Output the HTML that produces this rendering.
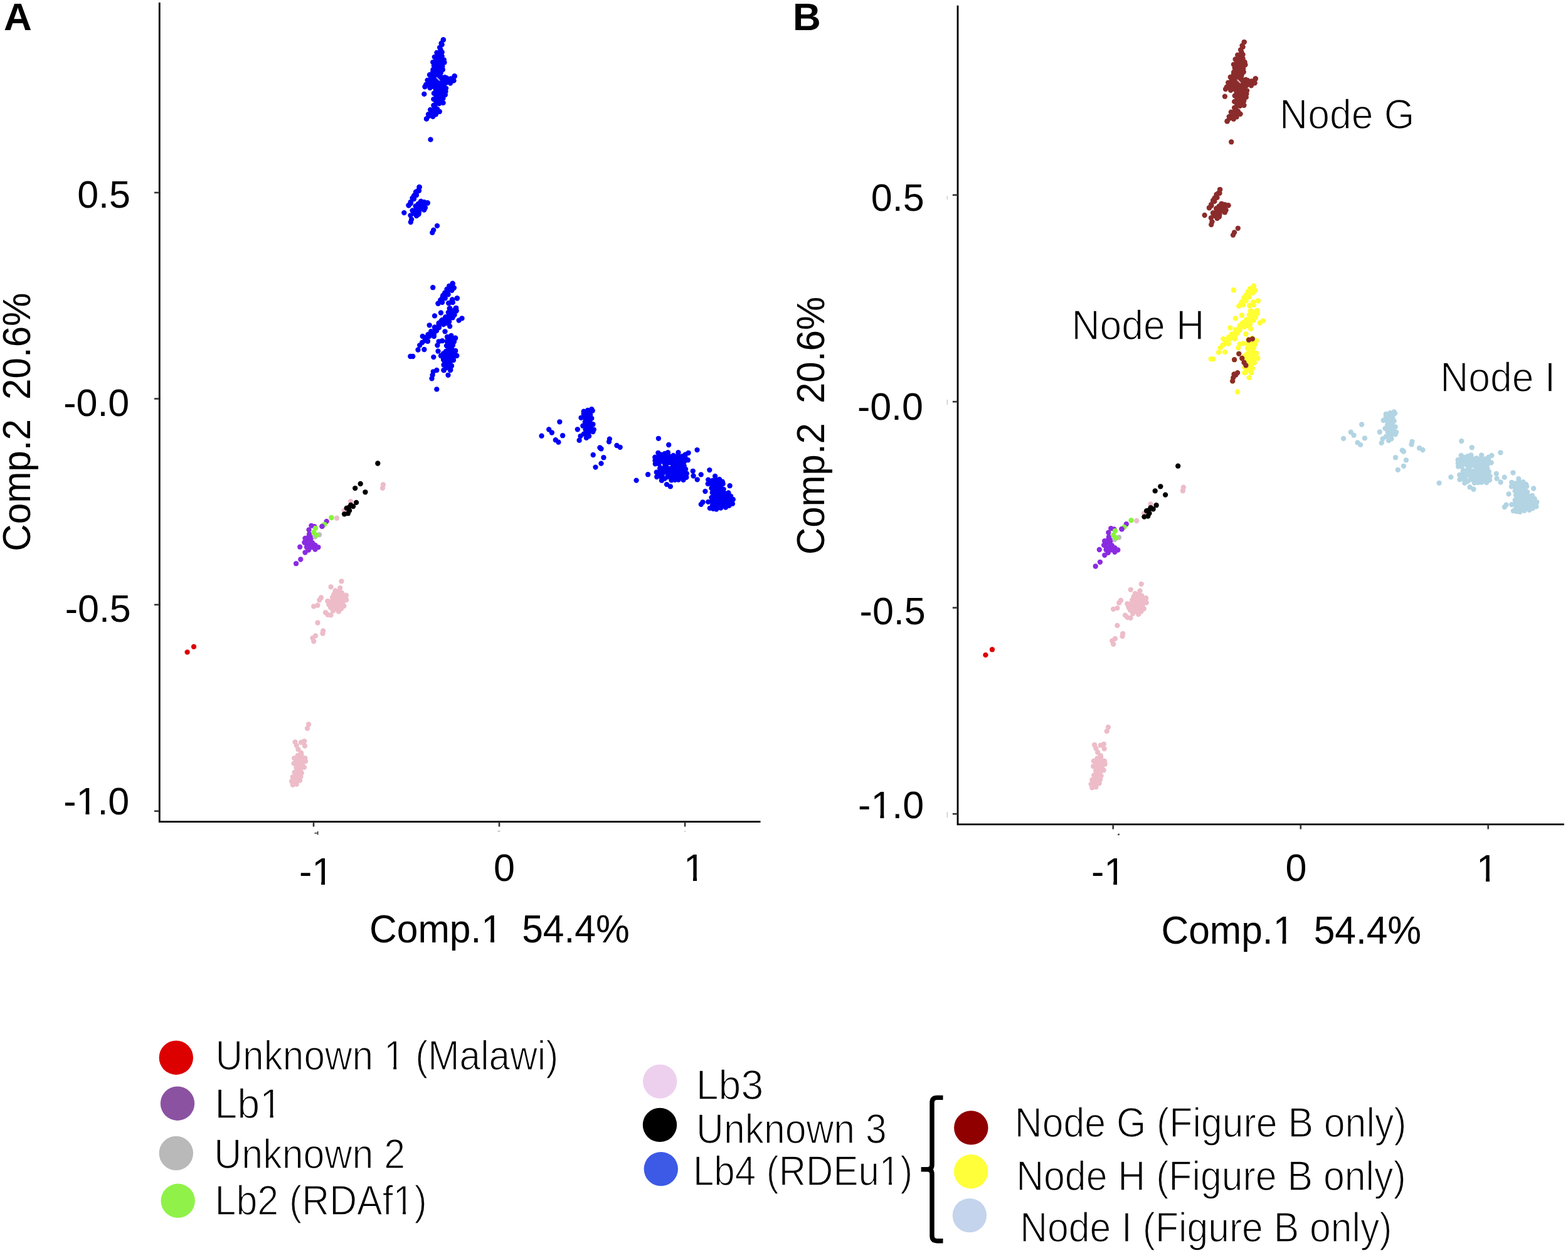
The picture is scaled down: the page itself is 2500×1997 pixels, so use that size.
<!DOCTYPE html>
<html><head><meta charset="utf-8"><title>PCA figure</title><style>html,body{margin:0;padding:0;background:#fff;}svg{display:block;}</style></head><body>
<svg width="2500" height="1997" viewBox="0 0 2500 1997">
<rect width="2500" height="1997" fill="#fff"/>
<text x="6" y="48" font-family="'Liberation Sans', Arial, Helvetica, sans-serif" font-weight="bold" font-size="62">A</text>
<text x="1264" y="48.3" font-family="'Liberation Sans', Arial, Helvetica, sans-serif" font-weight="bold" font-size="62">B</text>
<g stroke="#000" stroke-width="2.8" fill="none"><path d="M254.3,4 V1309.7 H1212.5"/><path d="M1527,8.8 V1313.9 H2493.8"/></g>
<g stroke="#333" stroke-width="2.6"><line x1="246" y1="307" x2="254" y2="307"/><line x1="246" y1="635.5" x2="254" y2="635.5"/><line x1="246" y1="963.8" x2="254" y2="963.8"/><line x1="246" y1="1292.7" x2="254" y2="1292.7"/><line x1="500" y1="1310" x2="500" y2="1317.5"/><line x1="796" y1="1310" x2="796" y2="1317.5"/><line x1="1092.1" y1="1310" x2="1092.1" y2="1317.5"/><line x1="1518.8" y1="310.8" x2="1527" y2="310.8"/><line x1="1518.8" y1="640.2" x2="1527" y2="640.2"/><line x1="1518.8" y1="968.6" x2="1527" y2="968.6"/><line x1="1518.8" y1="1297.2" x2="1527" y2="1297.2"/><line x1="1774.7" y1="1314" x2="1774.7" y2="1321.5"/><line x1="2073.8" y1="1314" x2="2073.8" y2="1321.5"/><line x1="2372.7" y1="1314" x2="2372.7" y2="1321.5"/></g>
<text x="208" y="331" font-family="'Liberation Sans', Arial, Helvetica, sans-serif" font-size="61" text-anchor="end">0.5</text>
<text x="206.3" y="663.2" font-family="'Liberation Sans', Arial, Helvetica, sans-serif" font-size="61" text-anchor="end">-0.0</text>
<text x="208.8" y="990.8" font-family="'Liberation Sans', Arial, Helvetica, sans-serif" font-size="61" text-anchor="end">-0.5</text>
<text x="206.3" y="1297.8" font-family="'Liberation Sans', Arial, Helvetica, sans-serif" font-size="61" text-anchor="end">-1.0</text>
<text x="1473.6" y="336.3" font-family="'Liberation Sans', Arial, Helvetica, sans-serif" font-size="61" text-anchor="end">0.5</text>
<text x="1472" y="669" font-family="'Liberation Sans', Arial, Helvetica, sans-serif" font-size="61" text-anchor="end">-0.0</text>
<text x="1475.7" y="995.3" font-family="'Liberation Sans', Arial, Helvetica, sans-serif" font-size="61" text-anchor="end">-0.5</text>
<text x="1473.2" y="1304.4" font-family="'Liberation Sans', Arial, Helvetica, sans-serif" font-size="61" text-anchor="end">-1.0</text>
<text x="803.9" y="1403.5" font-family="'Liberation Sans', Arial, Helvetica, sans-serif" font-size="61" text-anchor="middle">0</text>
<text x="2066.5" y="1404.3" font-family="'Liberation Sans', Arial, Helvetica, sans-serif" font-size="61" text-anchor="middle">0</text>
<text x="1090" y="1404" font-family="'Liberation Sans', Arial, Helvetica, sans-serif" font-size="61" text-anchor="start">1</text>
<text x="2354" y="1405" font-family="'Liberation Sans', Arial, Helvetica, sans-serif" font-size="61" text-anchor="start">1</text>
<text x="477" y="1410" font-family="'Liberation Sans', Arial, Helvetica, sans-serif" font-size="61" text-anchor="start">-1</text>
<text x="1740" y="1410" font-family="'Liberation Sans', Arial, Helvetica, sans-serif" font-size="61" text-anchor="start">-1</text>
<g fill="#fff"><rect x="1092" y="1398" width="13" height="7"/><rect x="1111" y="1398" width="12" height="7"/><rect x="2356" y="1399" width="13" height="7"/><rect x="2375" y="1399" width="12" height="7"/><rect x="499" y="1404" width="13.2" height="7"/><rect x="518" y="1404" width="12" height="7"/><rect x="1762" y="1404" width="13.2" height="7"/><rect x="1781" y="1404" width="12" height="7"/></g>
<text transform="matrix(0.9709,0,0,1,589.1,1502.3)" font-family="'Liberation Sans', Arial, Helvetica, sans-serif" font-size="62.3" word-spacing="15">Comp.1 54.4%</text>
<text transform="matrix(0.9709,0,0,1,1851.5,1504)" font-family="'Liberation Sans', Arial, Helvetica, sans-serif" font-size="62.3" word-spacing="15">Comp.1 54.4%</text>
<text transform="translate(48.3,878.7) rotate(-90) scale(0.9656,1)" font-family="'Liberation Sans', Arial, Helvetica, sans-serif" font-size="62.3" word-spacing="15">Comp.2 20.6%</text>
<text transform="translate(1314,884.1) rotate(-90) scale(0.963,1)" font-family="'Liberation Sans', Arial, Helvetica, sans-serif" font-size="62.3" word-spacing="15">Comp.2 20.6%</text>
<g fill="#444"><rect x="501.5" y="1327" width="4" height="1.6"/><rect x="505.5" y="1325" width="2" height="5.5"/><rect x="1782" y="1329" width="3" height="2.5" transform="rotate(-30 1783 1330)"/></g>
<g fill="#c4c4c4"><rect x="1509.7" y="312.3" width="1.3" height="5.6" rx="0.6"/><rect x="1509.7" y="636.7" width="1.3" height="8.4" rx="0.6"/><rect x="1509.7" y="1294" width="1.3" height="9" rx="0.6"/></g>
<g fill="#edbcc8"><polygon points="469.3,1208.3 474.8,1204.1 480.4,1202.7 486.3,1208.3 487,1213.2 485,1222.9 480.8,1232 478,1243.8 472.8,1249.8 466.8,1250.8 465.1,1245.2 466.8,1238.3 472.4,1223.6 468.6,1216.7"/><circle cx="469.3" cy="1208.3" r="4.15"/><circle cx="474.8" cy="1204.1" r="4.15"/><circle cx="480.4" cy="1202.7" r="4.15"/><circle cx="486.3" cy="1208.3" r="4.15"/><circle cx="487" cy="1213.2" r="4.15"/><circle cx="485" cy="1222.9" r="4.15"/><circle cx="480.8" cy="1232" r="4.15"/><circle cx="479.4" cy="1237.9" r="4.15"/><circle cx="478" cy="1243.8" r="4.15"/><circle cx="472.8" cy="1249.8" r="4.15"/><circle cx="466.8" cy="1250.8" r="4.15"/><circle cx="465.1" cy="1245.2" r="4.15"/><circle cx="466.8" cy="1238.3" r="4.15"/><circle cx="469.6" cy="1230.9" r="4.15"/><circle cx="472.4" cy="1223.6" r="4.15"/><circle cx="468.6" cy="1216.7" r="4.15"/></g><g fill="#edbcc8"><circle cx="492.1" cy="1154.5" r="4.15"/><circle cx="490" cy="1160.9" r="4.15"/><circle cx="470.5" cy="1182.6" r="4.15"/><circle cx="485.2" cy="1181.3" r="4.15"/><circle cx="480.1" cy="1183.2" r="4.15"/><circle cx="486" cy="1188.8" r="4.15"/><circle cx="472.8" cy="1188.1" r="4.15"/><circle cx="475.5" cy="1194.4" r="4.15"/><circle cx="480.1" cy="1199.9" r="4.15"/></g><g fill="#edbcc8"><polygon points="534.7,941.7 545,945 551.7,949 552.1,956 548.3,965.7 539.9,974.4 530.9,973.4 527,968 524.6,963.6 522.5,958.1 530,952"/><circle cx="534.7" cy="941.7" r="4.15"/><circle cx="539.9" cy="943.4" r="4.15"/><circle cx="545" cy="945" r="4.15"/><circle cx="551.7" cy="949" r="4.15"/><circle cx="552.1" cy="956" r="4.15"/><circle cx="548.3" cy="965.7" r="4.15"/><circle cx="544.1" cy="970" r="4.15"/><circle cx="539.9" cy="974.4" r="4.15"/><circle cx="530.9" cy="973.4" r="4.15"/><circle cx="527" cy="968" r="4.15"/><circle cx="524.6" cy="963.6" r="4.15"/><circle cx="522.5" cy="958.1" r="4.15"/><circle cx="530" cy="952" r="4.15"/><circle cx="532.4" cy="946.9" r="4.15"/></g><g fill="#edbcc8"><circle cx="544.4" cy="926.4" r="4.15"/><circle cx="527.6" cy="935.4" r="4.15"/><circle cx="542.2" cy="937.2" r="4.15"/><circle cx="534.7" cy="941.7" r="4.15"/><circle cx="551.7" cy="949" r="4.15"/><circle cx="552.1" cy="956" r="4.15"/><circle cx="512" cy="952.5" r="4.15"/><circle cx="509.3" cy="956.3" r="4.15"/><circle cx="506.5" cy="964.7" r="4.15"/><circle cx="500.2" cy="966.4" r="4.15"/><circle cx="522.5" cy="958.1" r="4.15"/><circle cx="524.6" cy="963.6" r="4.15"/><circle cx="519" cy="976.2" r="4.15"/><circle cx="522.5" cy="979.7" r="4.15"/><circle cx="527.4" cy="980.4" r="4.15"/><circle cx="530.9" cy="973.4" r="4.15"/><circle cx="539.9" cy="974.4" r="4.15"/><circle cx="548.3" cy="965.7" r="4.15"/><circle cx="506.5" cy="992.5" r="4.15"/><circle cx="515.2" cy="1005.4" r="4.15"/><circle cx="514.5" cy="1009.6" r="4.15"/><circle cx="503" cy="1013.4" r="4.15"/><circle cx="498.5" cy="1016.9" r="4.15"/><circle cx="500.2" cy="1022.1" r="4.15"/></g><g fill="#dd0000"><circle cx="298.6" cy="1039.4" r="4.15"/><circle cx="309" cy="1030.7" r="4.15"/></g><g fill="#edbcc8"><circle cx="610.9" cy="772.4" r="4.15"/><circle cx="610" cy="777.9" r="4.15"/><circle cx="559.1" cy="799.2" r="4.15"/><circle cx="548.8" cy="813.8" r="4.15"/><circle cx="537" cy="825.7" r="4.15"/></g><g fill="#8a2be2"><circle cx="520.7" cy="830.9" r="4.15"/><circle cx="513.5" cy="838.9" r="4.15"/><circle cx="496.4" cy="837.8" r="4.15"/><circle cx="501.4" cy="839.1" r="4.15"/><circle cx="492.5" cy="844.4" r="4.15"/><circle cx="493.1" cy="851.3" r="4.15"/><circle cx="486.5" cy="857.9" r="4.15"/><circle cx="485.4" cy="864.5" r="4.15"/><circle cx="496.4" cy="856.8" r="4.15"/><circle cx="478.2" cy="871.7" r="4.15"/><circle cx="493.1" cy="868.9" r="4.15"/><circle cx="502.5" cy="868.9" r="4.15"/><circle cx="507.4" cy="872.2" r="4.15"/><circle cx="502.5" cy="875.5" r="4.15"/><circle cx="492" cy="876.6" r="4.15"/><circle cx="486.5" cy="880.5" r="4.15"/><circle cx="479.3" cy="891.5" r="4.15"/><circle cx="472.1" cy="898.2" r="4.15"/><circle cx="490" cy="860" r="4.15"/><circle cx="495" cy="862" r="4.15"/><circle cx="488" cy="866" r="4.15"/><circle cx="498" cy="865" r="4.15"/><circle cx="492" cy="856" r="4.15"/><circle cx="489" cy="872" r="4.15"/><circle cx="497" cy="872" r="4.15"/></g><g fill="#bebebe"><circle cx="509.1" cy="852.2" r="4.15"/><circle cx="502.5" cy="855.5" r="4.15"/></g><g fill="#86f53a"><circle cx="528.4" cy="825" r="4.15"/><circle cx="517.4" cy="835.8" r="4.15"/><circle cx="503" cy="841.9" r="4.15"/><circle cx="500.3" cy="848.5" r="4.15"/><circle cx="504.7" cy="852.9" r="4.15"/></g><g fill="#8a2be2"><circle cx="513.5" cy="838.9" r="4.15"/></g><g fill="#000"><circle cx="602.3" cy="738.5" r="4.15"/><circle cx="574.7" cy="771" r="4.15"/><circle cx="566.2" cy="778.1" r="4.15"/><circle cx="582.4" cy="784.3" r="4.15"/><circle cx="568.1" cy="800.9" r="4.15"/><circle cx="559.3" cy="804.9" r="4.15"/><circle cx="563.1" cy="807.1" r="4.15"/><circle cx="552.7" cy="809.9" r="4.15"/><circle cx="557.1" cy="813.8" r="4.15"/><circle cx="554.9" cy="818.2" r="4.15"/><circle cx="549.1" cy="819.3" r="4.15"/><circle cx="556" cy="809" r="4.15"/></g><g fill="#0000f5"><polygon points="706.8,63.4 704.7,71.1 702.5,79.1 704.7,83.2 704.7,89.6 707.7,95.3 708.5,99.5 705.3,105.8 705.9,111 702.7,116.3 709.3,123.2 712.2,124.4 718.6,125.5 724.7,121.5 723.3,128.4 718,132.5 711.1,132 711.1,140.6 709.9,151.1 706.4,156.9 706.4,163.9 700.1,165 693.6,169.7 700.6,177.8 694.8,182.4 690.2,185.9 683.8,184.8 680,189.4 686.1,174.9 691.3,167.9 691.3,158.1 691.9,148.8 694.8,144.1 685.5,140.1 677.4,138.3 679.2,134.8 681.5,127.9 685,119.2 690.2,114.5 690.4,111.1 691.9,104.7 690.2,99.1 692.8,90.8 696.4,84 701.1,75.7 703.6,68.9"/><circle cx="706.8" cy="63.4" r="4.15"/><circle cx="704.7" cy="71.1" r="4.15"/><circle cx="702.5" cy="79.1" r="4.15"/><circle cx="704.7" cy="83.2" r="4.15"/><circle cx="704.7" cy="89.6" r="4.15"/><circle cx="707.7" cy="95.3" r="4.15"/><circle cx="708.5" cy="99.5" r="4.15"/><circle cx="705.3" cy="105.8" r="4.15"/><circle cx="705.9" cy="111" r="4.15"/><circle cx="702.7" cy="116.3" r="4.15"/><circle cx="709.3" cy="123.2" r="4.15"/><circle cx="712.2" cy="124.4" r="4.15"/><circle cx="718.6" cy="125.5" r="4.15"/><circle cx="724.7" cy="121.5" r="4.15"/><circle cx="723.3" cy="128.4" r="4.15"/><circle cx="718" cy="132.5" r="4.15"/><circle cx="711.1" cy="132" r="4.15"/><circle cx="711.1" cy="140.6" r="4.15"/><circle cx="710.5" cy="145.8" r="4.15"/><circle cx="709.9" cy="151.1" r="4.15"/><circle cx="706.4" cy="156.9" r="4.15"/><circle cx="706.4" cy="163.9" r="4.15"/><circle cx="700.1" cy="165" r="4.15"/><circle cx="693.6" cy="169.7" r="4.15"/><circle cx="697.1" cy="173.8" r="4.15"/><circle cx="700.6" cy="177.8" r="4.15"/><circle cx="694.8" cy="182.4" r="4.15"/><circle cx="690.2" cy="185.9" r="4.15"/><circle cx="683.8" cy="184.8" r="4.15"/><circle cx="680" cy="189.4" r="4.15"/><circle cx="683" cy="182.2" r="4.15"/><circle cx="686.1" cy="174.9" r="4.15"/><circle cx="691.3" cy="167.9" r="4.15"/><circle cx="691.3" cy="158.1" r="4.15"/><circle cx="691.9" cy="148.8" r="4.15"/><circle cx="694.8" cy="144.1" r="4.15"/><circle cx="685.5" cy="140.1" r="4.15"/><circle cx="677.4" cy="138.3" r="4.15"/><circle cx="679.2" cy="134.8" r="4.15"/><circle cx="681.5" cy="127.9" r="4.15"/><circle cx="685" cy="119.2" r="4.15"/><circle cx="690.2" cy="114.5" r="4.15"/><circle cx="690.4" cy="111.1" r="4.15"/><circle cx="691.9" cy="104.7" r="4.15"/><circle cx="690.2" cy="99.1" r="4.15"/><circle cx="692.8" cy="90.8" r="4.15"/><circle cx="696.4" cy="84" r="4.15"/><circle cx="701.1" cy="75.7" r="4.15"/><circle cx="703.6" cy="68.9" r="4.15"/></g><g fill="#0000f5"><circle cx="706.8" cy="63.4" r="4.15"/><circle cx="676.3" cy="149.9" r="4.15"/><circle cx="686.5" cy="222.4" r="4.15"/><circle cx="724.7" cy="121.5" r="4.15"/><circle cx="723.3" cy="128.4" r="4.15"/><circle cx="706.4" cy="163.9" r="4.15"/><circle cx="700.6" cy="177.8" r="4.15"/><circle cx="680" cy="189.4" r="4.15"/></g><g fill="#0000f5"><polygon points="668.6,298.2 666,304.3 661.5,310.7 657.7,315.8 654.8,322.2 651.6,327.3 655,324 660,317 664,311 668,304"/><polygon points="671.1,320.9 681.7,323.5 677.8,331.1 676.2,334.3 668,338 667.3,341.3 664.1,343.9 660,340 657.7,335.6 662.8,328.6"/><circle cx="668.6" cy="298.2" r="4.15"/><circle cx="666" cy="304.3" r="4.15"/><circle cx="661.5" cy="310.7" r="4.15"/><circle cx="657.7" cy="315.8" r="4.15"/><circle cx="654.8" cy="322.2" r="4.15"/><circle cx="651.6" cy="327.3" r="4.15"/><circle cx="655" cy="324" r="4.15"/><circle cx="660" cy="317" r="4.15"/><circle cx="664" cy="311" r="4.15"/><circle cx="668" cy="304" r="4.15"/><circle cx="671.1" cy="320.9" r="4.15"/><circle cx="676.4" cy="322.2" r="4.15"/><circle cx="681.7" cy="323.5" r="4.15"/><circle cx="677.8" cy="331.1" r="4.15"/><circle cx="676.2" cy="334.3" r="4.15"/><circle cx="668" cy="338" r="4.15"/><circle cx="667.3" cy="341.3" r="4.15"/><circle cx="664.1" cy="343.9" r="4.15"/><circle cx="660" cy="340" r="4.15"/><circle cx="657.7" cy="335.6" r="4.15"/><circle cx="662.8" cy="328.6" r="4.15"/><circle cx="667" cy="324.8" r="4.15"/></g><g fill="#0000f5"><circle cx="668.6" cy="298.2" r="4.15"/><circle cx="666" cy="304.3" r="4.15"/><circle cx="661.5" cy="310.7" r="4.15"/><circle cx="657.7" cy="315.8" r="4.15"/><circle cx="654.8" cy="322.2" r="4.15"/><circle cx="651.6" cy="327.3" r="4.15"/><circle cx="671.1" cy="320.9" r="4.15"/><circle cx="681.7" cy="323.5" r="4.15"/><circle cx="677.8" cy="331.1" r="4.15"/><circle cx="676.2" cy="334.3" r="4.15"/><circle cx="662.8" cy="328.6" r="4.15"/><circle cx="657.7" cy="335.6" r="4.15"/><circle cx="664.7" cy="335.6" r="4.15"/><circle cx="667.3" cy="341.3" r="4.15"/><circle cx="664.1" cy="343.9" r="4.15"/><circle cx="654.5" cy="343.3" r="4.15"/><circle cx="656.1" cy="349.6" r="4.15"/><circle cx="654.8" cy="354.1" r="4.15"/><circle cx="644.3" cy="339.1" r="4.15"/><circle cx="697" cy="359.9" r="4.15"/><circle cx="691.2" cy="366.6" r="4.15"/><circle cx="689.3" cy="370.7" r="4.15"/><circle cx="670" cy="330" r="4.15"/><circle cx="673" cy="326" r="4.15"/><circle cx="660" cy="312" r="4.15"/><circle cx="663" cy="306" r="4.15"/></g><g fill="#0000f5"><polygon points="721.8,452.5 722.5,459 720.4,462.8 714.6,469.3 709.7,475.3 705.1,481.8 698.6,483.7 706,472.5 712.5,460.9 716.2,455.8"/><polygon points="720.9,478.6 728.8,475.3 721.8,481.8 715.3,483.2"/><polygon points="726.4,491.6 726.4,495.7 724.6,501.8 720.9,506 716.2,512.5 707,517 700,522 692,532 684.1,536 681.9,543.7 673.1,545.9 677.5,538 687.4,528.3 693,521.6 699.6,515 705,510 710.2,506 714.8,498 716.7,491.6"/><polygon points="713,537 726,539 722,550 726,559 728,567 723,574 720,583 718,590 708,590 707,573 703,567 711,560 712,551"/><circle cx="721.8" cy="452.5" r="4.15"/><circle cx="722.5" cy="459" r="4.15"/><circle cx="720.4" cy="462.8" r="4.15"/><circle cx="714.6" cy="469.3" r="4.15"/><circle cx="709.7" cy="475.3" r="4.15"/><circle cx="705.1" cy="481.8" r="4.15"/><circle cx="698.6" cy="483.7" r="4.15"/><circle cx="702.3" cy="478.1" r="4.15"/><circle cx="706" cy="472.5" r="4.15"/><circle cx="709.2" cy="466.7" r="4.15"/><circle cx="712.5" cy="460.9" r="4.15"/><circle cx="716.2" cy="455.8" r="4.15"/><circle cx="720.9" cy="478.6" r="4.15"/><circle cx="728.8" cy="475.3" r="4.15"/><circle cx="721.8" cy="481.8" r="4.15"/><circle cx="715.3" cy="483.2" r="4.15"/><circle cx="726.4" cy="491.6" r="4.15"/><circle cx="726.4" cy="495.7" r="4.15"/><circle cx="724.6" cy="501.8" r="4.15"/><circle cx="720.9" cy="506" r="4.15"/><circle cx="716.2" cy="512.5" r="4.15"/><circle cx="707" cy="517" r="4.15"/><circle cx="700" cy="522" r="4.15"/><circle cx="696" cy="527" r="4.15"/><circle cx="692" cy="532" r="4.15"/><circle cx="684.1" cy="536" r="4.15"/><circle cx="681.9" cy="543.7" r="4.15"/><circle cx="673.1" cy="545.9" r="4.15"/><circle cx="677.5" cy="538" r="4.15"/><circle cx="682.5" cy="533.1" r="4.15"/><circle cx="687.4" cy="528.3" r="4.15"/><circle cx="693" cy="521.6" r="4.15"/><circle cx="699.6" cy="515" r="4.15"/><circle cx="705" cy="510" r="4.15"/><circle cx="710.2" cy="506" r="4.15"/><circle cx="714.8" cy="498" r="4.15"/><circle cx="716.7" cy="491.6" r="4.15"/><circle cx="713" cy="537" r="4.15"/><circle cx="719.5" cy="538" r="4.15"/><circle cx="726" cy="539" r="4.15"/><circle cx="724" cy="544.5" r="4.15"/><circle cx="722" cy="550" r="4.15"/><circle cx="726" cy="559" r="4.15"/><circle cx="728" cy="567" r="4.15"/><circle cx="723" cy="574" r="4.15"/><circle cx="720" cy="583" r="4.15"/><circle cx="718" cy="590" r="4.15"/><circle cx="708" cy="590" r="4.15"/><circle cx="707.5" cy="581.5" r="4.15"/><circle cx="707" cy="573" r="4.15"/><circle cx="703" cy="567" r="4.15"/><circle cx="707" cy="563.5" r="4.15"/><circle cx="711" cy="560" r="4.15"/><circle cx="712" cy="551" r="4.15"/><circle cx="712.5" cy="544" r="4.15"/></g><g fill="#0000f5"><circle cx="721.6" cy="451.6" r="4.15"/><circle cx="723.9" cy="458.8" r="4.15"/><circle cx="717.2" cy="458.8" r="4.15"/><circle cx="711.7" cy="465.4" r="4.15"/><circle cx="706.2" cy="470.9" r="4.15"/><circle cx="705.1" cy="475.3" r="4.15"/><circle cx="698.5" cy="483.6" r="4.15"/><circle cx="690.2" cy="458.2" r="4.15"/><circle cx="728.8" cy="475.3" r="4.15"/><circle cx="721.1" cy="477.5" r="4.15"/><circle cx="715.6" cy="483" r="4.15"/><circle cx="721.6" cy="481.9" r="4.15"/><circle cx="727.2" cy="490.8" r="4.15"/><circle cx="717.2" cy="491.3" r="4.15"/><circle cx="727.7" cy="495.2" r="4.15"/><circle cx="723.9" cy="501.8" r="4.15"/><circle cx="721.6" cy="506.2" r="4.15"/><circle cx="710.6" cy="505.1" r="4.15"/><circle cx="703.4" cy="511.7" r="4.15"/><circle cx="699.6" cy="517.2" r="4.15"/><circle cx="693" cy="521.6" r="4.15"/><circle cx="687.4" cy="528.3" r="4.15"/><circle cx="691.9" cy="536" r="4.15"/><circle cx="684.1" cy="536" r="4.15"/><circle cx="677.5" cy="542.6" r="4.15"/><circle cx="673.7" cy="536" r="4.15"/><circle cx="673.1" cy="545.9" r="4.15"/><circle cx="681.9" cy="543.7" r="4.15"/><circle cx="711.7" cy="515" r="4.15"/><circle cx="702.9" cy="498.5" r="4.15"/><circle cx="693" cy="503.4" r="4.15"/><circle cx="684.7" cy="518.3" r="4.15"/><circle cx="717.2" cy="520" r="4.15"/><circle cx="709.5" cy="528.3" r="4.15"/><circle cx="731.6" cy="510.6" r="4.15"/><circle cx="736.5" cy="507.3" r="4.15"/><circle cx="669.2" cy="550.3" r="4.15"/><circle cx="666.5" cy="557.5" r="4.15"/><circle cx="676.4" cy="557" r="4.15"/><circle cx="654.3" cy="568" r="4.15"/><circle cx="658.2" cy="568" r="4.15"/><circle cx="719.4" cy="534.9" r="4.15"/><circle cx="726.1" cy="538.7" r="4.15"/><circle cx="713.9" cy="537.1" r="4.15"/><circle cx="705.1" cy="543.2" r="4.15"/><circle cx="699.6" cy="544.3" r="4.15"/><circle cx="697.4" cy="550.3" r="4.15"/><circle cx="712.8" cy="551.4" r="4.15"/><circle cx="721.6" cy="550.3" r="4.15"/><circle cx="726.1" cy="559.2" r="4.15"/><circle cx="711.7" cy="560.3" r="4.15"/><circle cx="698.5" cy="559.7" r="4.15"/><circle cx="728.3" cy="566.9" r="4.15"/><circle cx="703.4" cy="566.9" r="4.15"/><circle cx="691.3" cy="569.1" r="4.15"/><circle cx="707.3" cy="573.5" r="4.15"/><circle cx="722.8" cy="573.5" r="4.15"/><circle cx="719.4" cy="583.4" r="4.15"/><circle cx="710.6" cy="582.3" r="4.15"/><circle cx="707.3" cy="590" r="4.15"/><circle cx="718.3" cy="589.5" r="4.15"/><circle cx="696.3" cy="590" r="4.15"/><circle cx="690.8" cy="592.3" r="4.15"/><circle cx="689.6" cy="597.8" r="4.15"/><circle cx="688.5" cy="603.3" r="4.15"/><circle cx="714.5" cy="597.8" r="4.15"/><circle cx="696.3" cy="620.4" r="4.15"/><circle cx="709.5" cy="578.2" r="4.15"/></g><g fill="#0000f5"><polygon points="930.7,655.7 943.3,652.2 944.7,654.6 941.2,660.9 943.3,666.8 945.4,676.2 946.8,684.6 945.4,688.1 939.1,695.1 934.9,697.9 930.7,691.6 933.5,684.6 929.3,678.7 932.8,672.8 926.5,665.8 930.7,659.5"/><circle cx="930.7" cy="655.7" r="4.15"/><circle cx="937" cy="654" r="4.15"/><circle cx="943.3" cy="652.2" r="4.15"/><circle cx="944.7" cy="654.6" r="4.15"/><circle cx="941.2" cy="660.9" r="4.15"/><circle cx="943.3" cy="666.8" r="4.15"/><circle cx="945.4" cy="676.2" r="4.15"/><circle cx="946.8" cy="684.6" r="4.15"/><circle cx="945.4" cy="688.1" r="4.15"/><circle cx="939.1" cy="695.1" r="4.15"/><circle cx="934.9" cy="697.9" r="4.15"/><circle cx="930.7" cy="691.6" r="4.15"/><circle cx="933.5" cy="684.6" r="4.15"/><circle cx="929.3" cy="678.7" r="4.15"/><circle cx="932.8" cy="672.8" r="4.15"/><circle cx="926.5" cy="665.8" r="4.15"/><circle cx="930.7" cy="659.5" r="4.15"/></g><g fill="#0000f5"><circle cx="892.3" cy="672.3" r="4.15"/><circle cx="875.2" cy="684.5" r="4.15"/><circle cx="879.9" cy="689.5" r="4.15"/><circle cx="863.5" cy="694.7" r="4.15"/><circle cx="897.1" cy="694.2" r="4.15"/><circle cx="885.8" cy="701.2" r="4.15"/><circle cx="890.4" cy="704.7" r="4.15"/><circle cx="920.8" cy="684.3" r="4.15"/><circle cx="923.6" cy="701.7" r="4.15"/><circle cx="925.5" cy="695.1" r="4.15"/><circle cx="971.9" cy="699.6" r="4.15"/><circle cx="971" cy="704.1" r="4.15"/><circle cx="983.4" cy="710" r="4.15"/><circle cx="988.7" cy="712.8" r="4.15"/><circle cx="956.4" cy="713.5" r="4.15"/><circle cx="958.5" cy="715.3" r="4.15"/><circle cx="945.7" cy="725" r="4.15"/><circle cx="962.4" cy="729.2" r="4.15"/><circle cx="958.5" cy="738.6" r="4.15"/><circle cx="949.5" cy="744.6" r="4.15"/></g><g fill="#0000f5"><polygon points="1049.4,721.8 1054.9,724.6 1064.9,721.2 1073.6,725.9 1081.5,721.2 1087.8,727.1 1097.6,721.8 1092.3,728.3 1096.8,733.2 1085.4,738 1090.7,742.5 1093.1,747.8 1094.8,754.7 1094.3,760.8 1089.5,764.9 1081.7,764.5 1070.4,765.3 1064.3,760 1054.9,765.7 1047.2,760 1046.8,752.7 1052.1,746.6 1044.8,739.3 1044.3,728.7"/><circle cx="1049.4" cy="721.8" r="4.15"/><circle cx="1054.9" cy="724.6" r="4.15"/><circle cx="1059.9" cy="722.9" r="4.15"/><circle cx="1064.9" cy="721.2" r="4.15"/><circle cx="1073.6" cy="725.9" r="4.15"/><circle cx="1081.5" cy="721.2" r="4.15"/><circle cx="1087.8" cy="727.1" r="4.15"/><circle cx="1092.7" cy="724.5" r="4.15"/><circle cx="1097.6" cy="721.8" r="4.15"/><circle cx="1092.3" cy="728.3" r="4.15"/><circle cx="1096.8" cy="733.2" r="4.15"/><circle cx="1091.1" cy="735.6" r="4.15"/><circle cx="1085.4" cy="738" r="4.15"/><circle cx="1090.7" cy="742.5" r="4.15"/><circle cx="1093.1" cy="747.8" r="4.15"/><circle cx="1094.8" cy="754.7" r="4.15"/><circle cx="1094.3" cy="760.8" r="4.15"/><circle cx="1089.5" cy="764.9" r="4.15"/><circle cx="1081.7" cy="764.5" r="4.15"/><circle cx="1076.1" cy="764.9" r="4.15"/><circle cx="1070.4" cy="765.3" r="4.15"/><circle cx="1064.3" cy="760" r="4.15"/><circle cx="1059.6" cy="762.9" r="4.15"/><circle cx="1054.9" cy="765.7" r="4.15"/><circle cx="1047.2" cy="760" r="4.15"/><circle cx="1046.8" cy="752.7" r="4.15"/><circle cx="1052.1" cy="746.6" r="4.15"/><circle cx="1044.8" cy="739.3" r="4.15"/><circle cx="1044.5" cy="734" r="4.15"/><circle cx="1044.3" cy="728.7" r="4.15"/></g><g fill="#0000f5"><circle cx="1049.9" cy="698.8" r="4.15"/><circle cx="1066.2" cy="709" r="4.15"/><circle cx="1111.5" cy="717.1" r="4.15"/><circle cx="1033.1" cy="756.2" r="4.15"/><circle cx="1014.6" cy="765.6" r="4.15"/><circle cx="1063" cy="772.1" r="4.15"/><circle cx="1068.9" cy="775.4" r="4.15"/><circle cx="1104.8" cy="750.8" r="4.15"/><circle cx="1105.6" cy="758.5" r="4.15"/><circle cx="1117.7" cy="756.4" r="4.15"/><circle cx="1111.7" cy="764.3" r="4.15"/></g><g fill="#0000f5"><polygon points="1140.1,758.9 1147,764 1151.8,767.6 1152.7,771.1 1153.6,779.8 1161.4,785.5 1168.8,796 1167.9,802.9 1157,808.6 1149.2,809.5 1142.2,811.6 1131.8,809.9 1136.1,804.7 1129.2,799.9 1134.4,792.9 1135.7,785.1 1134.4,778.1 1128.7,771.1 1129.2,764.6 1136.1,765.9"/><circle cx="1140.1" cy="758.9" r="4.15"/><circle cx="1147" cy="764" r="4.15"/><circle cx="1151.8" cy="767.6" r="4.15"/><circle cx="1152.7" cy="771.1" r="4.15"/><circle cx="1153.6" cy="779.8" r="4.15"/><circle cx="1161.4" cy="785.5" r="4.15"/><circle cx="1165.1" cy="790.8" r="4.15"/><circle cx="1168.8" cy="796" r="4.15"/><circle cx="1167.9" cy="802.9" r="4.15"/><circle cx="1162.5" cy="805.8" r="4.15"/><circle cx="1157" cy="808.6" r="4.15"/><circle cx="1149.2" cy="809.5" r="4.15"/><circle cx="1142.2" cy="811.6" r="4.15"/><circle cx="1137" cy="810.8" r="4.15"/><circle cx="1131.8" cy="809.9" r="4.15"/><circle cx="1136.1" cy="804.7" r="4.15"/><circle cx="1129.2" cy="799.9" r="4.15"/><circle cx="1134.4" cy="792.9" r="4.15"/><circle cx="1135.7" cy="785.1" r="4.15"/><circle cx="1134.4" cy="778.1" r="4.15"/><circle cx="1128.7" cy="771.1" r="4.15"/><circle cx="1129.2" cy="764.6" r="4.15"/><circle cx="1136.1" cy="765.9" r="4.15"/></g><g fill="#0000f5"><circle cx="1131.3" cy="749.1" r="4.15"/><circle cx="1163.6" cy="774.2" r="4.15"/><circle cx="1124.4" cy="783.1" r="4.15"/><circle cx="1120.5" cy="800.3" r="4.15"/><circle cx="1117.8" cy="803.8" r="4.15"/></g>
<g fill="#edbcc8"><polygon points="1743.8,1212.9 1749.4,1208.7 1755.1,1207.3 1761,1212.9 1761.7,1217.8 1759.7,1227.5 1755.5,1236.6 1752.6,1248.4 1747.4,1254.4 1741.3,1255.4 1739.6,1249.8 1741.3,1242.9 1747,1228.2 1743.1,1221.3"/><circle cx="1743.8" cy="1212.9" r="4.15"/><circle cx="1749.4" cy="1208.7" r="4.15"/><circle cx="1755.1" cy="1207.3" r="4.15"/><circle cx="1761" cy="1212.9" r="4.15"/><circle cx="1761.7" cy="1217.8" r="4.15"/><circle cx="1759.7" cy="1227.5" r="4.15"/><circle cx="1755.5" cy="1236.6" r="4.15"/><circle cx="1754" cy="1242.5" r="4.15"/><circle cx="1752.6" cy="1248.4" r="4.15"/><circle cx="1747.4" cy="1254.4" r="4.15"/><circle cx="1741.3" cy="1255.4" r="4.15"/><circle cx="1739.6" cy="1249.8" r="4.15"/><circle cx="1741.3" cy="1242.9" r="4.15"/><circle cx="1744.1" cy="1235.6" r="4.15"/><circle cx="1747" cy="1228.2" r="4.15"/><circle cx="1743.1" cy="1221.3" r="4.15"/></g><g fill="#edbcc8"><circle cx="1766.9" cy="1159" r="4.15"/><circle cx="1764.7" cy="1165.4" r="4.15"/><circle cx="1745.1" cy="1187.2" r="4.15"/><circle cx="1759.9" cy="1185.9" r="4.15"/><circle cx="1754.8" cy="1187.8" r="4.15"/><circle cx="1760.7" cy="1193.4" r="4.15"/><circle cx="1747.4" cy="1192.7" r="4.15"/><circle cx="1750.1" cy="1199" r="4.15"/><circle cx="1754.8" cy="1204.5" r="4.15"/></g><g fill="#edbcc8"><polygon points="1809.9,946.1 1820.3,949.4 1827.1,953.4 1827.5,960.4 1823.6,970.1 1815.1,978.8 1806.1,977.8 1802.1,972.4 1799.7,968 1797.6,962.5 1805.1,956.4"/><circle cx="1809.9" cy="946.1" r="4.15"/><circle cx="1815.1" cy="947.7" r="4.15"/><circle cx="1820.3" cy="949.4" r="4.15"/><circle cx="1827.1" cy="953.4" r="4.15"/><circle cx="1827.5" cy="960.4" r="4.15"/><circle cx="1823.6" cy="970.1" r="4.15"/><circle cx="1819.4" cy="974.5" r="4.15"/><circle cx="1815.1" cy="978.8" r="4.15"/><circle cx="1806.1" cy="977.8" r="4.15"/><circle cx="1802.1" cy="972.4" r="4.15"/><circle cx="1799.7" cy="968" r="4.15"/><circle cx="1797.6" cy="962.5" r="4.15"/><circle cx="1805.1" cy="956.4" r="4.15"/><circle cx="1807.5" cy="951.2" r="4.15"/></g><g fill="#edbcc8"><circle cx="1819.7" cy="930.8" r="4.15"/><circle cx="1802.7" cy="939.8" r="4.15"/><circle cx="1817.5" cy="941.6" r="4.15"/><circle cx="1809.9" cy="946.1" r="4.15"/><circle cx="1827.1" cy="953.4" r="4.15"/><circle cx="1827.5" cy="960.4" r="4.15"/><circle cx="1787" cy="956.9" r="4.15"/><circle cx="1784.2" cy="960.7" r="4.15"/><circle cx="1781.4" cy="969.1" r="4.15"/><circle cx="1775.1" cy="970.8" r="4.15"/><circle cx="1797.6" cy="962.5" r="4.15"/><circle cx="1799.7" cy="968" r="4.15"/><circle cx="1794" cy="980.6" r="4.15"/><circle cx="1797.6" cy="984.1" r="4.15"/><circle cx="1802.5" cy="984.8" r="4.15"/><circle cx="1806.1" cy="977.8" r="4.15"/><circle cx="1815.1" cy="978.8" r="4.15"/><circle cx="1823.6" cy="970.1" r="4.15"/><circle cx="1781.4" cy="996.9" r="4.15"/><circle cx="1790.2" cy="1009.8" r="4.15"/><circle cx="1789.5" cy="1014" r="4.15"/><circle cx="1777.9" cy="1017.8" r="4.15"/><circle cx="1773.3" cy="1021.3" r="4.15"/><circle cx="1775.1" cy="1026.5" r="4.15"/></g><g fill="#dd0000"><circle cx="1571.4" cy="1043.9" r="4.15"/><circle cx="1581.9" cy="1035.2" r="4.15"/></g><g fill="#edbcc8"><circle cx="1886.9" cy="776.7" r="4.15"/><circle cx="1885.9" cy="782.2" r="4.15"/><circle cx="1834.5" cy="803.5" r="4.15"/><circle cx="1824.1" cy="818.1" r="4.15"/><circle cx="1812.2" cy="830" r="4.15"/></g><g fill="#8a2be2"><circle cx="1795.8" cy="835.2" r="4.15"/><circle cx="1788.5" cy="843.2" r="4.15"/><circle cx="1771.2" cy="842.1" r="4.15"/><circle cx="1776.3" cy="843.4" r="4.15"/><circle cx="1767.3" cy="848.7" r="4.15"/><circle cx="1767.9" cy="855.6" r="4.15"/><circle cx="1761.2" cy="862.2" r="4.15"/><circle cx="1760.1" cy="868.8" r="4.15"/><circle cx="1771.2" cy="861.1" r="4.15"/><circle cx="1752.8" cy="876" r="4.15"/><circle cx="1767.9" cy="873.2" r="4.15"/><circle cx="1777.4" cy="873.2" r="4.15"/><circle cx="1782.3" cy="876.5" r="4.15"/><circle cx="1777.4" cy="879.8" r="4.15"/><circle cx="1766.8" cy="880.9" r="4.15"/><circle cx="1761.2" cy="884.8" r="4.15"/><circle cx="1753.9" cy="895.8" r="4.15"/><circle cx="1746.7" cy="902.5" r="4.15"/><circle cx="1764.7" cy="864.3" r="4.15"/><circle cx="1769.8" cy="866.3" r="4.15"/><circle cx="1762.7" cy="870.3" r="4.15"/><circle cx="1772.8" cy="869.3" r="4.15"/><circle cx="1766.8" cy="860.3" r="4.15"/><circle cx="1763.7" cy="876.3" r="4.15"/><circle cx="1771.8" cy="876.3" r="4.15"/></g><g fill="#bebebe"><circle cx="1784" cy="856.5" r="4.15"/><circle cx="1777.4" cy="859.8" r="4.15"/></g><g fill="#86f53a"><circle cx="1803.5" cy="829.3" r="4.15"/><circle cx="1792.4" cy="840.1" r="4.15"/><circle cx="1777.9" cy="846.2" r="4.15"/><circle cx="1775.2" cy="852.8" r="4.15"/><circle cx="1779.6" cy="857.2" r="4.15"/></g><g fill="#8a2be2"><circle cx="1788.5" cy="843.2" r="4.15"/></g><g fill="#000"><circle cx="1878.2" cy="742.7" r="4.15"/><circle cx="1850.3" cy="775.3" r="4.15"/><circle cx="1841.7" cy="782.4" r="4.15"/><circle cx="1858.1" cy="788.6" r="4.15"/><circle cx="1843.6" cy="805.2" r="4.15"/><circle cx="1834.7" cy="809.2" r="4.15"/><circle cx="1838.6" cy="811.4" r="4.15"/><circle cx="1828.1" cy="814.2" r="4.15"/><circle cx="1832.5" cy="818.1" r="4.15"/><circle cx="1830.3" cy="822.5" r="4.15"/><circle cx="1824.4" cy="823.6" r="4.15"/><circle cx="1831.4" cy="813.3" r="4.15"/></g><g fill="#8b2c2c"><polygon points="1983.7,67.1 1981.6,74.8 1979.4,82.8 1981.6,86.9 1981.6,93.3 1984.6,99 1985.4,103.2 1982.2,109.5 1982.8,114.8 1979.6,120.1 1986.2,127 1989.2,128.2 1995.6,129.3 2001.8,125.3 2000.4,132.2 1995,136.3 1988.1,135.8 1988.1,144.4 1986.8,154.9 1983.3,160.7 1983.3,167.7 1976.9,168.8 1970.4,173.5 1977.4,181.6 1971.6,186.2 1966.9,189.7 1960.5,188.6 1956.6,193.2 1962.8,178.7 1968.1,171.7 1968.1,161.9 1968.7,152.6 1971.6,147.9 1962.2,143.9 1954,142.1 1955.8,138.6 1958.2,131.7 1961.7,123 1966.9,118.3 1967.1,114.9 1968.7,108.4 1966.9,102.8 1969.6,94.5 1973.2,87.7 1978,79.4 1980.5,72.6"/><circle cx="1983.7" cy="67.1" r="4.15"/><circle cx="1981.6" cy="74.8" r="4.15"/><circle cx="1979.4" cy="82.8" r="4.15"/><circle cx="1981.6" cy="86.9" r="4.15"/><circle cx="1981.6" cy="93.3" r="4.15"/><circle cx="1984.6" cy="99" r="4.15"/><circle cx="1985.4" cy="103.2" r="4.15"/><circle cx="1982.2" cy="109.5" r="4.15"/><circle cx="1982.8" cy="114.8" r="4.15"/><circle cx="1979.6" cy="120.1" r="4.15"/><circle cx="1986.2" cy="127" r="4.15"/><circle cx="1989.2" cy="128.2" r="4.15"/><circle cx="1995.6" cy="129.3" r="4.15"/><circle cx="2001.8" cy="125.3" r="4.15"/><circle cx="2000.4" cy="132.2" r="4.15"/><circle cx="1995" cy="136.3" r="4.15"/><circle cx="1988.1" cy="135.8" r="4.15"/><circle cx="1988.1" cy="144.4" r="4.15"/><circle cx="1987.4" cy="149.6" r="4.15"/><circle cx="1986.8" cy="154.9" r="4.15"/><circle cx="1983.3" cy="160.7" r="4.15"/><circle cx="1983.3" cy="167.7" r="4.15"/><circle cx="1976.9" cy="168.8" r="4.15"/><circle cx="1970.4" cy="173.5" r="4.15"/><circle cx="1973.9" cy="177.5" r="4.15"/><circle cx="1977.4" cy="181.6" r="4.15"/><circle cx="1971.6" cy="186.2" r="4.15"/><circle cx="1966.9" cy="189.7" r="4.15"/><circle cx="1960.5" cy="188.6" r="4.15"/><circle cx="1956.6" cy="193.2" r="4.15"/><circle cx="1959.7" cy="186" r="4.15"/><circle cx="1962.8" cy="178.7" r="4.15"/><circle cx="1968.1" cy="171.7" r="4.15"/><circle cx="1968.1" cy="161.9" r="4.15"/><circle cx="1968.7" cy="152.6" r="4.15"/><circle cx="1971.6" cy="147.9" r="4.15"/><circle cx="1962.2" cy="143.9" r="4.15"/><circle cx="1954" cy="142.1" r="4.15"/><circle cx="1955.8" cy="138.6" r="4.15"/><circle cx="1958.2" cy="131.7" r="4.15"/><circle cx="1961.7" cy="123" r="4.15"/><circle cx="1966.9" cy="118.3" r="4.15"/><circle cx="1967.1" cy="114.9" r="4.15"/><circle cx="1968.7" cy="108.4" r="4.15"/><circle cx="1966.9" cy="102.8" r="4.15"/><circle cx="1969.6" cy="94.5" r="4.15"/><circle cx="1973.2" cy="87.7" r="4.15"/><circle cx="1978" cy="79.4" r="4.15"/><circle cx="1980.5" cy="72.6" r="4.15"/></g><g fill="#8b2c2c"><circle cx="1983.7" cy="67.1" r="4.15"/><circle cx="1952.9" cy="153.7" r="4.15"/><circle cx="1963.2" cy="226.2" r="4.15"/><circle cx="2001.8" cy="125.3" r="4.15"/><circle cx="2000.4" cy="132.2" r="4.15"/><circle cx="1983.3" cy="167.7" r="4.15"/><circle cx="1977.4" cy="181.6" r="4.15"/><circle cx="1956.6" cy="193.2" r="4.15"/></g><g fill="#8b2c2c"><polygon points="1945.1,302.1 1942.5,308.2 1938,314.6 1934.1,319.7 1931.2,326.1 1928,331.2 1931.4,327.9 1936.4,320.9 1940.5,314.9 1944.5,307.9"/><polygon points="1947.7,324.8 1958.4,327.4 1954.4,335 1952.8,338.2 1944.5,341.9 1943.8,345.2 1940.6,347.8 1936.4,343.9 1934.1,339.5 1939.3,332.5"/><circle cx="1945.1" cy="302.1" r="4.15"/><circle cx="1942.5" cy="308.2" r="4.15"/><circle cx="1938" cy="314.6" r="4.15"/><circle cx="1934.1" cy="319.7" r="4.15"/><circle cx="1931.2" cy="326.1" r="4.15"/><circle cx="1928" cy="331.2" r="4.15"/><circle cx="1931.4" cy="327.9" r="4.15"/><circle cx="1936.4" cy="320.9" r="4.15"/><circle cx="1940.5" cy="314.9" r="4.15"/><circle cx="1944.5" cy="307.9" r="4.15"/><circle cx="1947.7" cy="324.8" r="4.15"/><circle cx="1953" cy="326.1" r="4.15"/><circle cx="1958.4" cy="327.4" r="4.15"/><circle cx="1954.4" cy="335" r="4.15"/><circle cx="1952.8" cy="338.2" r="4.15"/><circle cx="1944.5" cy="341.9" r="4.15"/><circle cx="1943.8" cy="345.2" r="4.15"/><circle cx="1940.6" cy="347.8" r="4.15"/><circle cx="1936.4" cy="343.9" r="4.15"/><circle cx="1934.1" cy="339.5" r="4.15"/><circle cx="1939.3" cy="332.5" r="4.15"/><circle cx="1943.5" cy="328.7" r="4.15"/></g><g fill="#8b2c2c"><circle cx="1945.1" cy="302.1" r="4.15"/><circle cx="1942.5" cy="308.2" r="4.15"/><circle cx="1938" cy="314.6" r="4.15"/><circle cx="1934.1" cy="319.7" r="4.15"/><circle cx="1931.2" cy="326.1" r="4.15"/><circle cx="1928" cy="331.2" r="4.15"/><circle cx="1947.7" cy="324.8" r="4.15"/><circle cx="1958.4" cy="327.4" r="4.15"/><circle cx="1954.4" cy="335" r="4.15"/><circle cx="1952.8" cy="338.2" r="4.15"/><circle cx="1939.3" cy="332.5" r="4.15"/><circle cx="1934.1" cy="339.5" r="4.15"/><circle cx="1941.2" cy="339.5" r="4.15"/><circle cx="1943.8" cy="345.2" r="4.15"/><circle cx="1940.6" cy="347.8" r="4.15"/><circle cx="1930.9" cy="347.2" r="4.15"/><circle cx="1932.5" cy="353.5" r="4.15"/><circle cx="1931.2" cy="358" r="4.15"/><circle cx="1920.6" cy="343" r="4.15"/><circle cx="1973.8" cy="363.8" r="4.15"/><circle cx="1968" cy="370.5" r="4.15"/><circle cx="1966" cy="374.6" r="4.15"/><circle cx="1946.5" cy="333.9" r="4.15"/><circle cx="1949.6" cy="329.9" r="4.15"/><circle cx="1936.4" cy="315.9" r="4.15"/><circle cx="1939.5" cy="309.9" r="4.15"/></g><g fill="#ffff33"><polygon points="1998.9,456.5 1999.6,463 1997.4,466.8 1991.6,473.3 1986.6,479.3 1982,485.8 1975.4,487.7 1982.9,476.5 1989.5,464.9 1993.2,459.8"/><polygon points="1998,482.6 2005.9,479.3 1998.9,485.8 1992.3,487.2"/><polygon points="2003.5,495.6 2003.5,499.7 2001.7,505.8 1998,510.1 1993.2,516.6 1983.9,521.1 1976.8,526.1 1968.8,536.1 1960.8,540.1 1958.6,547.8 1949.7,550 1954.1,542.1 1964.1,532.4 1969.8,525.7 1976.4,519.1 1981.9,514.1 1987.1,510.1 1991.8,502 1993.7,495.6"/><polygon points="1990,541.1 2003.1,543.1 1999.1,554.1 2003.1,563.1 2005.1,571.1 2000.1,578.1 1997,587.1 1995,594.1 1984.9,594.1 1983.9,577.1 1979.9,571.1 1988,564.1 1989,555.1"/><circle cx="1998.9" cy="456.5" r="4.15"/><circle cx="1999.6" cy="463" r="4.15"/><circle cx="1997.4" cy="466.8" r="4.15"/><circle cx="1991.6" cy="473.3" r="4.15"/><circle cx="1986.6" cy="479.3" r="4.15"/><circle cx="1982" cy="485.8" r="4.15"/><circle cx="1975.4" cy="487.7" r="4.15"/><circle cx="1979.2" cy="482.1" r="4.15"/><circle cx="1982.9" cy="476.5" r="4.15"/><circle cx="1986.2" cy="470.7" r="4.15"/><circle cx="1989.5" cy="464.9" r="4.15"/><circle cx="1993.2" cy="459.8" r="4.15"/><circle cx="1998" cy="482.6" r="4.15"/><circle cx="2005.9" cy="479.3" r="4.15"/><circle cx="1998.9" cy="485.8" r="4.15"/><circle cx="1992.3" cy="487.2" r="4.15"/><circle cx="2003.5" cy="495.6" r="4.15"/><circle cx="2003.5" cy="499.7" r="4.15"/><circle cx="2001.7" cy="505.8" r="4.15"/><circle cx="1998" cy="510.1" r="4.15"/><circle cx="1993.2" cy="516.6" r="4.15"/><circle cx="1983.9" cy="521.1" r="4.15"/><circle cx="1976.8" cy="526.1" r="4.15"/><circle cx="1972.8" cy="531.1" r="4.15"/><circle cx="1968.8" cy="536.1" r="4.15"/><circle cx="1960.8" cy="540.1" r="4.15"/><circle cx="1958.6" cy="547.8" r="4.15"/><circle cx="1949.7" cy="550" r="4.15"/><circle cx="1954.1" cy="542.1" r="4.15"/><circle cx="1959.1" cy="537.2" r="4.15"/><circle cx="1964.1" cy="532.4" r="4.15"/><circle cx="1969.8" cy="525.7" r="4.15"/><circle cx="1976.4" cy="519.1" r="4.15"/><circle cx="1981.9" cy="514.1" r="4.15"/><circle cx="1987.1" cy="510.1" r="4.15"/><circle cx="1991.8" cy="502" r="4.15"/><circle cx="1993.7" cy="495.6" r="4.15"/><circle cx="1990" cy="541.1" r="4.15"/><circle cx="1996.5" cy="542.1" r="4.15"/><circle cx="2003.1" cy="543.1" r="4.15"/><circle cx="2001.1" cy="548.6" r="4.15"/><circle cx="1999.1" cy="554.1" r="4.15"/><circle cx="2003.1" cy="563.1" r="4.15"/><circle cx="2005.1" cy="571.1" r="4.15"/><circle cx="2000.1" cy="578.1" r="4.15"/><circle cx="1997" cy="587.1" r="4.15"/><circle cx="1995" cy="594.1" r="4.15"/><circle cx="1984.9" cy="594.1" r="4.15"/><circle cx="1984.4" cy="585.6" r="4.15"/><circle cx="1983.9" cy="577.1" r="4.15"/><circle cx="1979.9" cy="571.1" r="4.15"/><circle cx="1983.9" cy="567.6" r="4.15"/><circle cx="1988" cy="564.1" r="4.15"/><circle cx="1989" cy="555.1" r="4.15"/><circle cx="1989.5" cy="548.1" r="4.15"/></g><g fill="#ffff33"><circle cx="1998.7" cy="455.6" r="4.15"/><circle cx="2001" cy="462.8" r="4.15"/><circle cx="1994.2" cy="462.8" r="4.15"/><circle cx="1988.7" cy="469.4" r="4.15"/><circle cx="1983.1" cy="474.9" r="4.15"/><circle cx="1982" cy="479.3" r="4.15"/><circle cx="1975.3" cy="487.6" r="4.15"/><circle cx="1966.9" cy="462.2" r="4.15"/><circle cx="2005.9" cy="479.3" r="4.15"/><circle cx="1998.2" cy="481.5" r="4.15"/><circle cx="1992.6" cy="487" r="4.15"/><circle cx="1998.7" cy="485.9" r="4.15"/><circle cx="2004.3" cy="494.8" r="4.15"/><circle cx="1994.2" cy="495.3" r="4.15"/><circle cx="2004.8" cy="499.2" r="4.15"/><circle cx="2001" cy="505.8" r="4.15"/><circle cx="1998.7" cy="510.3" r="4.15"/><circle cx="1987.5" cy="509.2" r="4.15"/><circle cx="1980.3" cy="515.8" r="4.15"/><circle cx="1976.4" cy="521.3" r="4.15"/><circle cx="1969.8" cy="525.7" r="4.15"/><circle cx="1964.1" cy="532.4" r="4.15"/><circle cx="1968.7" cy="540.1" r="4.15"/><circle cx="1960.8" cy="540.1" r="4.15"/><circle cx="1954.1" cy="546.7" r="4.15"/><circle cx="1950.3" cy="540.1" r="4.15"/><circle cx="1949.7" cy="550" r="4.15"/><circle cx="1958.6" cy="547.8" r="4.15"/><circle cx="1988.7" cy="519.1" r="4.15"/><circle cx="1979.8" cy="502.5" r="4.15"/><circle cx="1969.8" cy="507.4" r="4.15"/><circle cx="1961.4" cy="522.4" r="4.15"/><circle cx="1994.2" cy="524.1" r="4.15"/><circle cx="1986.4" cy="532.4" r="4.15"/><circle cx="2008.8" cy="514.7" r="4.15"/><circle cx="2013.7" cy="511.4" r="4.15"/><circle cx="1945.7" cy="554.4" r="4.15"/><circle cx="1943" cy="561.6" r="4.15"/><circle cx="1953" cy="561.1" r="4.15"/><circle cx="1930.7" cy="572.1" r="4.15"/><circle cx="1934.6" cy="572.1" r="4.15"/><circle cx="1996.4" cy="539" r="4.15"/><circle cx="2003.2" cy="542.8" r="4.15"/><circle cx="1990.9" cy="541.2" r="4.15"/><circle cx="1982" cy="547.3" r="4.15"/><circle cx="1976.4" cy="548.4" r="4.15"/><circle cx="1974.2" cy="554.4" r="4.15"/><circle cx="1989.8" cy="555.5" r="4.15"/><circle cx="1998.7" cy="554.4" r="4.15"/><circle cx="2003.2" cy="563.3" r="4.15"/><circle cx="1988.7" cy="564.4" r="4.15"/><circle cx="1975.3" cy="563.8" r="4.15"/><circle cx="2005.4" cy="571" r="4.15"/><circle cx="1980.3" cy="571" r="4.15"/><circle cx="1968.1" cy="573.2" r="4.15"/><circle cx="1984.2" cy="577.6" r="4.15"/><circle cx="1999.9" cy="577.6" r="4.15"/><circle cx="1996.4" cy="587.5" r="4.15"/><circle cx="1987.5" cy="586.4" r="4.15"/><circle cx="1984.2" cy="594.1" r="4.15"/><circle cx="1995.3" cy="593.6" r="4.15"/><circle cx="1973.1" cy="594.1" r="4.15"/><circle cx="1967.6" cy="596.4" r="4.15"/><circle cx="1966.3" cy="601.9" r="4.15"/><circle cx="1965.2" cy="607.4" r="4.15"/><circle cx="1991.5" cy="601.9" r="4.15"/><circle cx="1973.1" cy="624.5" r="4.15"/><circle cx="1986.4" cy="582.3" r="4.15"/></g><g fill="#b2d4e3"><polygon points="2209.8,659.9 2222.6,656.4 2224,658.8 2220.4,665.1 2222.6,671 2224.7,680.4 2226.1,688.8 2224.7,692.3 2218.3,699.3 2214.1,702.1 2209.8,695.8 2212.7,688.8 2208.4,682.9 2212,677 2205.6,670 2209.8,663.7"/><circle cx="2209.8" cy="659.9" r="4.15"/><circle cx="2216.2" cy="658.1" r="4.15"/><circle cx="2222.6" cy="656.4" r="4.15"/><circle cx="2224" cy="658.8" r="4.15"/><circle cx="2220.4" cy="665.1" r="4.15"/><circle cx="2222.6" cy="671" r="4.15"/><circle cx="2224.7" cy="680.4" r="4.15"/><circle cx="2226.1" cy="688.8" r="4.15"/><circle cx="2224.7" cy="692.3" r="4.15"/><circle cx="2218.3" cy="699.3" r="4.15"/><circle cx="2214.1" cy="702.1" r="4.15"/><circle cx="2209.8" cy="695.8" r="4.15"/><circle cx="2212.7" cy="688.8" r="4.15"/><circle cx="2208.4" cy="682.9" r="4.15"/><circle cx="2212" cy="677" r="4.15"/><circle cx="2205.6" cy="670" r="4.15"/><circle cx="2209.8" cy="663.7" r="4.15"/></g><g fill="#b2d4e3"><circle cx="2171.1" cy="676.5" r="4.15"/><circle cx="2153.8" cy="688.7" r="4.15"/><circle cx="2158.5" cy="693.7" r="4.15"/><circle cx="2142" cy="698.9" r="4.15"/><circle cx="2175.9" cy="698.4" r="4.15"/><circle cx="2164.5" cy="705.4" r="4.15"/><circle cx="2169.1" cy="708.9" r="4.15"/><circle cx="2199.8" cy="688.5" r="4.15"/><circle cx="2202.7" cy="705.9" r="4.15"/><circle cx="2204.6" cy="699.3" r="4.15"/><circle cx="2251.5" cy="703.8" r="4.15"/><circle cx="2250.5" cy="708.3" r="4.15"/><circle cx="2263.1" cy="714.2" r="4.15"/><circle cx="2268.4" cy="717" r="4.15"/><circle cx="2235.8" cy="717.7" r="4.15"/><circle cx="2237.9" cy="719.5" r="4.15"/><circle cx="2225" cy="729.2" r="4.15"/><circle cx="2241.9" cy="733.4" r="4.15"/><circle cx="2237.9" cy="742.8" r="4.15"/><circle cx="2228.8" cy="748.8" r="4.15"/></g><g fill="#b2d4e3"><polygon points="2329.7,726 2335.3,728.8 2345.4,725.4 2354.2,730.1 2362.1,725.4 2368.5,731.3 2378.4,726 2373.1,732.5 2377.6,737.4 2366.1,742.2 2371.4,746.7 2373.9,752 2375.6,758.9 2375.1,765 2370.2,769.1 2362.3,768.7 2350.9,769.5 2344.8,764.2 2335.3,769.9 2327.5,764.2 2327.1,756.9 2332.5,750.8 2325.1,743.5 2324.6,732.9"/><circle cx="2329.7" cy="726" r="4.15"/><circle cx="2335.3" cy="728.8" r="4.15"/><circle cx="2340.3" cy="727.1" r="4.15"/><circle cx="2345.4" cy="725.4" r="4.15"/><circle cx="2354.2" cy="730.1" r="4.15"/><circle cx="2362.1" cy="725.4" r="4.15"/><circle cx="2368.5" cy="731.3" r="4.15"/><circle cx="2373.5" cy="728.7" r="4.15"/><circle cx="2378.4" cy="726" r="4.15"/><circle cx="2373.1" cy="732.5" r="4.15"/><circle cx="2377.6" cy="737.4" r="4.15"/><circle cx="2371.8" cy="739.8" r="4.15"/><circle cx="2366.1" cy="742.2" r="4.15"/><circle cx="2371.4" cy="746.7" r="4.15"/><circle cx="2373.9" cy="752" r="4.15"/><circle cx="2375.6" cy="758.9" r="4.15"/><circle cx="2375.1" cy="765" r="4.15"/><circle cx="2370.2" cy="769.1" r="4.15"/><circle cx="2362.3" cy="768.7" r="4.15"/><circle cx="2356.6" cy="769.1" r="4.15"/><circle cx="2350.9" cy="769.5" r="4.15"/><circle cx="2344.8" cy="764.2" r="4.15"/><circle cx="2340" cy="767.1" r="4.15"/><circle cx="2335.3" cy="769.9" r="4.15"/><circle cx="2327.5" cy="764.2" r="4.15"/><circle cx="2327.1" cy="756.9" r="4.15"/><circle cx="2332.5" cy="750.8" r="4.15"/><circle cx="2325.1" cy="743.5" r="4.15"/><circle cx="2324.8" cy="738.2" r="4.15"/><circle cx="2324.6" cy="732.9" r="4.15"/></g><g fill="#b2d4e3"><circle cx="2330.2" cy="703" r="4.15"/><circle cx="2346.7" cy="713.2" r="4.15"/><circle cx="2392.4" cy="721.3" r="4.15"/><circle cx="2313.3" cy="760.4" r="4.15"/><circle cx="2294.6" cy="769.8" r="4.15"/><circle cx="2343.5" cy="776.4" r="4.15"/><circle cx="2349.4" cy="779.7" r="4.15"/><circle cx="2385.7" cy="755" r="4.15"/><circle cx="2386.5" cy="762.7" r="4.15"/><circle cx="2398.7" cy="760.6" r="4.15"/><circle cx="2392.6" cy="768.5" r="4.15"/></g><g fill="#b2d4e3"><polygon points="2421.3,763.1 2428.3,768.2 2433.1,771.9 2434.1,775.4 2435,784.1 2442.8,789.8 2450.3,800.3 2449.4,807.2 2438.4,812.9 2430.5,813.8 2423.5,815.9 2412.9,814.2 2417.3,809 2410.3,804.2 2415.6,797.2 2416.9,789.4 2415.6,782.4 2409.8,775.4 2410.3,768.8 2417.3,770.1"/><circle cx="2421.3" cy="763.1" r="4.15"/><circle cx="2428.3" cy="768.2" r="4.15"/><circle cx="2433.1" cy="771.9" r="4.15"/><circle cx="2434.1" cy="775.4" r="4.15"/><circle cx="2435" cy="784.1" r="4.15"/><circle cx="2442.8" cy="789.8" r="4.15"/><circle cx="2446.6" cy="795" r="4.15"/><circle cx="2450.3" cy="800.3" r="4.15"/><circle cx="2449.4" cy="807.2" r="4.15"/><circle cx="2443.9" cy="810" r="4.15"/><circle cx="2438.4" cy="812.9" r="4.15"/><circle cx="2430.5" cy="813.8" r="4.15"/><circle cx="2423.5" cy="815.9" r="4.15"/><circle cx="2418.2" cy="815" r="4.15"/><circle cx="2412.9" cy="814.2" r="4.15"/><circle cx="2417.3" cy="809" r="4.15"/><circle cx="2410.3" cy="804.2" r="4.15"/><circle cx="2415.6" cy="797.2" r="4.15"/><circle cx="2416.9" cy="789.4" r="4.15"/><circle cx="2415.6" cy="782.4" r="4.15"/><circle cx="2409.8" cy="775.4" r="4.15"/><circle cx="2410.3" cy="768.8" r="4.15"/><circle cx="2417.3" cy="770.1" r="4.15"/></g><g fill="#b2d4e3"><circle cx="2412.4" cy="753.3" r="4.15"/><circle cx="2445.1" cy="778.5" r="4.15"/><circle cx="2405.5" cy="787.4" r="4.15"/><circle cx="2401.5" cy="804.6" r="4.15"/><circle cx="2398.8" cy="808.1" r="4.15"/></g>
<g fill="#8b2c2c"><circle cx="1991.1" cy="541.7" r="4.15"/><circle cx="1996.9" cy="540.1" r="4.15"/><circle cx="1975.3" cy="563.8" r="4.15"/><circle cx="1968.1" cy="573.2" r="4.15"/><circle cx="1980.3" cy="571" r="4.15"/><circle cx="1983.5" cy="577.7" r="4.15"/><circle cx="1986.4" cy="582.3" r="4.15"/><circle cx="1973.1" cy="594.1" r="4.15"/><circle cx="1970.3" cy="597.6" r="4.15"/><circle cx="1967.6" cy="596.4" r="4.15"/><circle cx="1966.3" cy="601.9" r="4.15"/><circle cx="1965.2" cy="607.4" r="4.15"/></g>
<g fill="#fff" opacity="0.85"><ellipse cx="698.6" cy="125.9" rx="4.2" ry="0.9" transform="rotate(45 698.6 125.9)"/><ellipse cx="1055.3" cy="740.9" rx="1.2" ry="2.0" transform="rotate(-30 1055.3 740.9)"/><ellipse cx="1067.5" cy="742.1" rx="2.0" ry="0.8" transform="rotate(5 1067.5 742.1)"/><ellipse cx="1060.2" cy="757.6" rx="0.6" ry="1.8" transform="rotate(10 1060.2 757.6)"/></g>
<g fill="#fff" opacity="0.85"><ellipse cx="1975.4" cy="129.7" rx="4.2" ry="0.9" transform="rotate(45 1975.4 129.7)"/><ellipse cx="2335.7" cy="745.1" rx="1.2" ry="2.0" transform="rotate(-30 2335.7 745.1)"/><ellipse cx="2348.0" cy="746.3" rx="2.0" ry="0.8" transform="rotate(5 2348.0 746.3)"/><ellipse cx="2340.6" cy="761.8" rx="0.6" ry="1.8" transform="rotate(10 2340.6 761.8)"/></g>
<g fill="#b0b0b0"><rect x="793.5" y="1324" width="4" height="1.3"/><rect x="1091.3" y="1324.3" width="1.6" height="1.6"/></g>
<circle cx="280.8" cy="1685.7" r="27.2" fill="#dc0000"/>
<circle cx="283" cy="1758.7" r="27.2" fill="#8b52a1"/>
<circle cx="280.8" cy="1838" r="27.2" fill="#b9b9b9"/>
<circle cx="283.7" cy="1913.8" r="27.2" fill="#90f249"/>
<circle cx="1052.2" cy="1723.6" r="27.2" fill="#edd0ee"/>
<circle cx="1052" cy="1792.9" r="27.2" fill="#000000"/>
<circle cx="1053.8" cy="1863.1" r="27.2" fill="#3d5ae6"/>
<circle cx="1548.3" cy="1797.4" r="27.2" fill="#900000"/>
<circle cx="1548.1" cy="1867.2" r="27.2" fill="#ffff3a"/>
<circle cx="1545.9" cy="1937.1" r="27.2" fill="#c3d4ec"/>
<text transform="matrix(0.9176,0,0,1,343.49,1704.7)" font-family="'Liberation Sans', Arial, Helvetica, sans-serif" font-size="65.8" stroke="#fff" stroke-width="1.5">Unknown 1 (Malawi)</text>
<text transform="matrix(0.9820,0,0,1,342.21,1781.7)" font-family="'Liberation Sans', Arial, Helvetica, sans-serif" font-size="65.8" stroke="#fff" stroke-width="1.5">Lb1</text>
<text transform="matrix(0.9260,0,0,1,341.34,1862.1)" font-family="'Liberation Sans', Arial, Helvetica, sans-serif" font-size="65.8" stroke="#fff" stroke-width="1.5">Unknown 2</text>
<text transform="matrix(0.9248,0,0,1,342.55,1935.9)" font-family="'Liberation Sans', Arial, Helvetica, sans-serif" font-size="65.8" stroke="#fff" stroke-width="1.5">Lb2 (RDAf1)</text>
<text transform="matrix(0.9790,0,0,1,1109.73,1752.2)" font-family="'Liberation Sans', Arial, Helvetica, sans-serif" font-size="65.8" stroke="#fff" stroke-width="1.5">Lb3</text>
<text transform="matrix(0.9226,0,0,1,1110.06,1822.3)" font-family="'Liberation Sans', Arial, Helvetica, sans-serif" font-size="65.8" stroke="#fff" stroke-width="1.5">Unknown 3</text>
<text transform="matrix(0.9121,0,0,1,1104.93,1889.1)" font-family="'Liberation Sans', Arial, Helvetica, sans-serif" font-size="65.8" stroke="#fff" stroke-width="1.5">Lb4 (RDEu1)</text>
<text transform="matrix(0.9235,0,0,1,1617.76,1812.4)" font-family="'Liberation Sans', Arial, Helvetica, sans-serif" font-size="65.8" stroke="#fff" stroke-width="1.5">Node G (Figure B only)</text>
<text transform="matrix(0.9240,0,0,1,1620.16,1896.6)" font-family="'Liberation Sans', Arial, Helvetica, sans-serif" font-size="65.8" stroke="#fff" stroke-width="1.5">Node H (Figure B only)</text>
<text transform="matrix(0.9221,0,0,1,1626.17,1979.2)" font-family="'Liberation Sans', Arial, Helvetica, sans-serif" font-size="65.8" stroke="#fff" stroke-width="1.5">Node I (Figure B only)</text>
<text transform="matrix(0.9493,0,0,1,2040.10,204.6)" font-family="'Liberation Sans', Arial, Helvetica, sans-serif" font-size="65.8" stroke="#fff" stroke-width="1.5">Node G</text>
<text transform="matrix(0.9498,0,0,1,1708.40,540.8)" font-family="'Liberation Sans', Arial, Helvetica, sans-serif" font-size="65.8" stroke="#fff" stroke-width="1.5">Node H</text>
<text transform="matrix(0.9492,0,0,1,2296.20,623.9)" font-family="'Liberation Sans', Arial, Helvetica, sans-serif" font-size="65.8" stroke="#fff" stroke-width="1.5">Node I</text>
<path d="M1503.5,1749.4 H1494 Q1486,1749.4 1486,1757.5 V1856 Q1486,1863.7 1479,1863.7 H1468.6 M1479,1863.7 Q1486,1863.7 1486,1871.5 V1969.6 Q1486,1977.7 1494,1977.7 H1503.5" fill="none" stroke="#000" stroke-width="7.4"/>
<g fill="#fff"><rect x="123.93" y="1292.19" width="12.57" height="6.81"/><rect x="142.47" y="1292.19" width="11.96" height="6.81"/><rect x="1390.83" y="1298.79" width="12.57" height="6.81"/><rect x="1409.37" y="1298.79" width="11.96" height="6.81"/><rect x="769.64" y="1496.57" width="12.46" height="6.93"/><rect x="788.03" y="1496.57" width="11.86" height="6.93"/><rect x="2032.04" y="1498.27" width="12.46" height="6.93"/><rect x="2050.43" y="1498.27" width="11.86" height="6.93"/><rect x="614.28" y="1698.65" width="12.99" height="7.25"/><rect x="632.09" y="1698.65" width="12.38" height="7.25"/><rect x="416.65" y="1775.65" width="13.90" height="7.25"/><rect x="435.70" y="1775.65" width="13.25" height="7.25"/><rect x="628.99" y="1929.85" width="13.09" height="7.25"/><rect x="646.94" y="1929.85" width="12.48" height="7.25"/><rect x="1404.18" y="1883.05" width="12.91" height="7.25"/><rect x="1421.88" y="1883.05" width="12.31" height="7.25"/></g>
</svg>
</body></html>
